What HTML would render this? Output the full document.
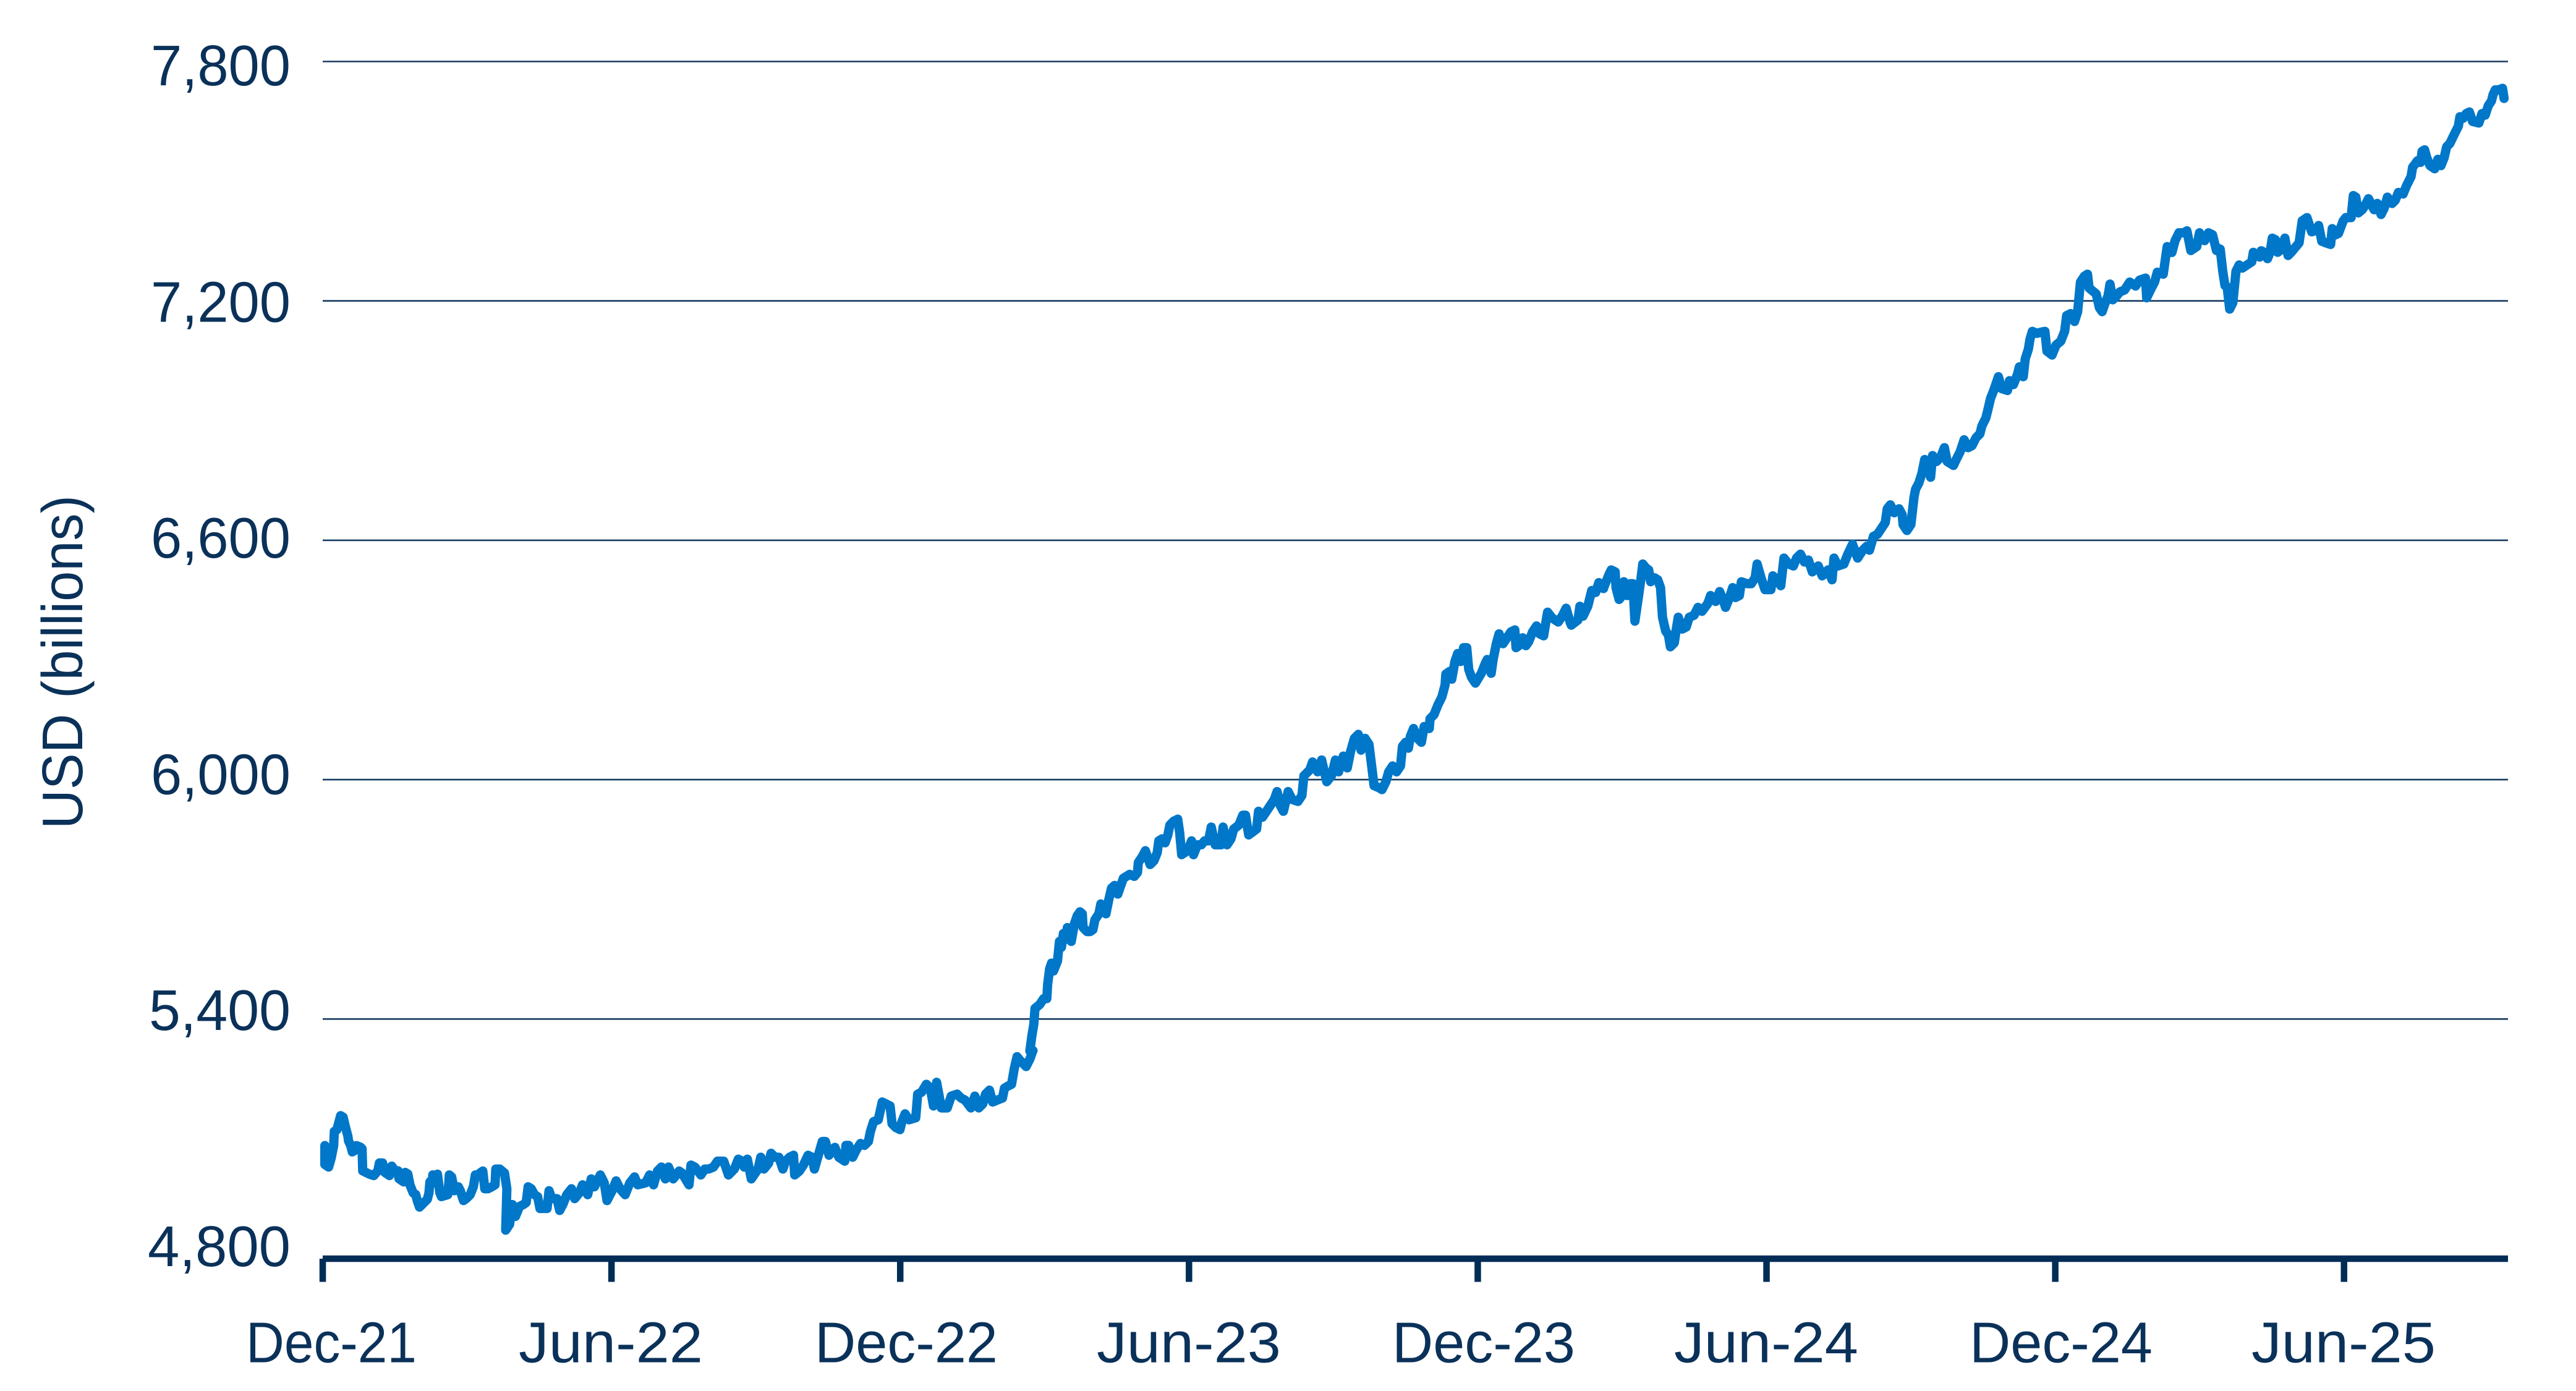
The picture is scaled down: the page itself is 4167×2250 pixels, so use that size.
<!DOCTYPE html>
<html>
<head>
<meta charset="utf-8">
<style>
html,body{margin:0;padding:0;background:#fff;}
svg{display:block;}
text{font-family:"Liberation Sans",Arial,sans-serif;fill:#0a3159;}
</style>
</head>
<body>
<svg width="4167" height="2250" viewBox="0 0 4167 2250" xmlns="http://www.w3.org/2000/svg">
<rect width="4167" height="2250" fill="#ffffff"/>

<!-- gridlines -->
<g stroke="#173b60" stroke-width="2.6">
<line x1="522" y1="99.5" x2="4057" y2="99.5"/>
<line x1="522" y1="486.7" x2="4057" y2="486.7"/>
<line x1="522" y1="873.9" x2="4057" y2="873.9"/>
<line x1="522" y1="1261.1" x2="4057" y2="1261.1"/>
<line x1="522" y1="1648.3" x2="4057" y2="1648.3"/>
</g>

<!-- x axis -->
<line x1="522" y1="2036" x2="4057" y2="2036" stroke="#002d56" stroke-width="10.5"/>
<g fill="#002d56">
<rect x="516.8" y="2036" width="10.5" height="37.5"/>
<rect x="983.9" y="2036" width="10.5" height="37.5"/>
<rect x="1451" y="2036" width="10.5" height="37.5"/>
<rect x="1918.1" y="2036" width="10.5" height="37.5"/>
<rect x="2385.2" y="2036" width="10.5" height="37.5"/>
<rect x="2852.3" y="2036" width="10.5" height="37.5"/>
<rect x="3319.4" y="2036" width="10.5" height="37.5"/>
<rect x="3786.5" y="2036" width="10.5" height="37.5"/>
</g>

<!-- y tick labels -->
<g font-size="93" text-anchor="end">
<text x="470" y="138" textLength="226" lengthAdjust="spacingAndGlyphs">7,800</text>
<text x="470" y="520.4" textLength="226" lengthAdjust="spacingAndGlyphs">7,200</text>
<text x="470" y="902" textLength="226" lengthAdjust="spacingAndGlyphs">6,600</text>
<text x="470" y="1284.7" textLength="226" lengthAdjust="spacingAndGlyphs">6,000</text>
<text x="470" y="1666" textLength="229" lengthAdjust="spacingAndGlyphs">5,400</text>
<text x="470" y="2048" textLength="231" lengthAdjust="spacingAndGlyphs">4,800</text>
</g>

<!-- x tick labels -->
<g font-size="93" text-anchor="middle">
<text x="536" y="2203.6" textLength="276" lengthAdjust="spacingAndGlyphs">Dec-21</text>
<text x="988" y="2203.6" textLength="298" lengthAdjust="spacingAndGlyphs">Jun-22</text>
<text x="1466" y="2203.6" textLength="296" lengthAdjust="spacingAndGlyphs">Dec-22</text>
<text x="1923" y="2203.6" textLength="298" lengthAdjust="spacingAndGlyphs">Jun-23</text>
<text x="2400" y="2203.6" textLength="296" lengthAdjust="spacingAndGlyphs">Dec-23</text>
<text x="2857" y="2203.6" textLength="298" lengthAdjust="spacingAndGlyphs">Jun-24</text>
<text x="3334" y="2203.6" textLength="296" lengthAdjust="spacingAndGlyphs">Dec-24</text>
<text x="3791" y="2203.6" textLength="298" lengthAdjust="spacingAndGlyphs">Jun-25</text>
</g>

<!-- y axis title -->
<text font-size="93" text-anchor="middle" transform="translate(133,1071) rotate(-90)" x="0" y="0" textLength="540" lengthAdjust="spacingAndGlyphs">USD (billions)</text>

<!-- series -->
<g fill="none" stroke="#0077c8" stroke-width="15" stroke-linejoin="round" stroke-linecap="round">
<polyline vector-effect="non-scaling-stroke" transform="translate(0,1450) scale(0.5102)" points="1030,790 1030,850 1042,858 1050,830 1058,790 1060,745 1068,740 1080,695 1088,700 1095,730 1103,760 1105,775 1112,790 1117,810 1125,805 1130,790 1143,795 1148,800 1150,870 1170,880 1185,885 1198,870 1203,845 1213,845 1220,875 1235,885 1242,855 1252,870 1262,870 1265,895 1280,905 1285,875 1293,880 1300,915 1310,940 1318,945 1323,965 1330,985 1345,970 1355,960 1360,940 1363,905 1372,895"/>

<polyline vector-effect="non-scaling-stroke" transform="translate(700,1250) scale(0.6378)" points="0,1030 0,1020 5,1040 12,1018 18,1065 22,1075 38,1070 40,1050 42,1020 48,1025 55,1060 65,1050 70,1060 78,1085 85,1080 95,1070 103,1050 108,1020 115,1020 120,1015 127,1010 132,1055 140,1055 150,1050 158,1045 160,1005 170,1005 182,1015 188,1055 185,1160 195,1145 202,1095 210,1125 220,1100 230,1095 237,1090 242,1050 250,1055 258,1070 266,1075 272,1105 290,1105 295,1060 302,1080 315,1080 322,1110 330,1095 340,1070 352,1055 360,1080 372,1065 380,1045 393,1070 402,1030 410,1050 425,1020 435,1040 442,1085 455,1060 465,1035 475,1055 488,1070 500,1040 512,1025 520,1045 540,1040 550,1020 560,1045 570,1010 580,1000 590,1030 598,1000 610,1030 625,1010 632,1015 650,1045 655,995 665,1000 680,1020 690,1005 700,1005 712,1000 722,985 738,985 750,1020 765,1005 775,980 785,985 790,1000 798,980 808,1030 825,1005 832,975 840,1005 852,990 858,965 868,975 878,975 888,1005 895,985 905,975 915,970 918,1020 930,1010 940,995 952,970 962,975 968,1005 978,970 988,935 996,935 1005,970 1020,950 1030,975 1045,985 1048,945 1055,945 1065,975 1075,955 1085,940 1095,945 1105,935 1110,910 1118,885 1130,880 1140,835 1150,840 1160,845 1165,890 1175,900 1185,905 1190,885 1198,865 1208,880 1225,875 1230,815 1240,810 1252,790 1262,800 1270,845 1278,785 1290,850 1305,850 1315,820 1330,815 1340,825 1350,830 1365,850 1375,820 1385,850 1395,840 1402,815 1412,805 1420,835 1432,830 1445,825 1450,800 1458,795 1468,790 1475,750 1482,720 1490,730 1505,745 1515,725 1522,705"/>

<polyline vector-effect="non-scaling-stroke" transform="translate(1650,700) scale(0.6378)" points="33,1567 25,1568 30,1530 35,1500 38,1460 50,1450 60,1435 68,1435 70,1400 75,1360 80,1345 85,1365 95,1340 100,1290 105,1305 110,1270 115,1285 120,1255 125,1280 130,1290 138,1245 145,1225 152,1215 158,1220 160,1255 170,1265 178,1265 185,1260 190,1235 200,1220 205,1195 210,1205 218,1220 225,1185 232,1155 240,1148 248,1170 255,1150 262,1130 270,1125 278,1120 290,1125 298,1115 300,1090 310,1075 318,1060 325,1080 330,1095 340,1085 348,1065 352,1035 360,1030 368,1040 375,1020 380,995 390,985 400,980 405,1015 410,1070 425,1060 435,1035 440,1070 450,1045 460,1045 468,1035 478,1035 485,1000 495,1045 510,1045 515,1000 525,1045 535,1030 542,1005 555,995 565,970 572,970 580,1020 600,1005 605,960 615,975 625,960 635,945 645,930 652,910 660,945 668,960 680,910 690,930 705,935 715,920 720,870 735,855 742,835 755,860 765,830 778,885 790,870 800,830 808,860 820,820 830,850 838,810 848,775 858,765 865,805 875,775 885,790 890,830 898,895 910,900 918,905 928,885 935,860 945,845 955,860 965,845 970,795 978,785 985,800 990,770 998,750 1008,775 1018,785 1025,745 1038,750 1040,725 1050,715 1060,690 1070,670 1078,640 1080,612 1090,605 1095,625 1103,580 1110,560 1118,580 1125,545 1133,545 1138,600 1145,620 1155,635 1170,610 1180,585 1185,575 1195,610 1200,575 1208,535 1215,510 1225,535 1235,520 1245,505 1255,500 1258,545 1265,540 1275,520 1283,540 1290,530 1300,505 1310,490 1318,510 1328,515 1338,455 1350,470 1365,480 1375,465 1385,445 1395,480 1398,488 1415,475 1420,440 1428,465 1440,440 1450,400 1460,405 1468,380 1480,395"/>

<polyline vector-effect="non-scaling-stroke" transform="translate(2600,300) scale(0.6378)" points="-10,1022 5,985 10,975 20,980 22,1020 30,1050 38,1040 42,1005 50,1040 58,1010 65,1010 70,1105 78,1050 85,1000 90,960 98,970 105,975 110,1005 120,995 128,1000 135,1020 140,1095 148,1130 155,1140 160,1170 170,1160 175,1125 180,1095 190,1125 200,1120 208,1095 220,1090 230,1070 240,1080 255,1060 262,1040 275,1055 285,1030 295,1055 300,1070 310,1045 318,1020 325,1045 335,1040 340,1005 355,1010 365,1010 375,995 380,960 390,995 400,1025 415,1025 420,990 430,1000 440,1015 448,945 460,960 472,965 480,945 490,935 500,955 510,950 520,980 535,965 545,990 560,975 570,1000 575,945 585,965 600,960 610,935 622,910 635,945 648,925 658,915 665,925 675,890 685,885 695,870 705,855 710,820 718,810 728,830 740,820 748,835 750,860 760,875 770,860 778,790 782,770 790,755 798,730 805,695 815,720 820,740 825,685 835,700 845,690 855,665 862,700 870,705 878,710 885,695 895,675 905,645 915,665 925,660 935,640 945,630 950,610 960,590 965,570 972,540 980,520 992,485 1000,515 1015,520 1020,495 1030,505 1040,480 1045,460 1055,485 1060,440 1068,415 1072,390 1078,370 1090,375 1100,372 1110,370 1115,420 1128,430 1138,405 1150,395 1160,370 1165,330 1175,325 1185,345 1193,320 1200,245 1210,230 1218,225 1222,260 1240,275 1248,310 1255,320 1262,300 1270,280 1275,250 1282,290 1292,280 1300,270 1312,265 1325,245 1340,255 1350,240 1365,235 1368,285 1380,260 1388,245 1395,220 1410,225 1420,155 1432,170 1440,140 1450,120 1462,120 1470,115 1480,165 1495,155 1502,120 1515,140 1525,120 1535,125 1545,165"/>

<polyline vector-effect="non-scaling-stroke" transform="translate(3367,0) scale(0.5102)" points="428,785 440,790 448,860 455,905 462,910 470,980 480,960 490,860 500,840 510,850 525,840 540,830 545,800 555,808 565,815 570,795 580,800 590,820 598,800 605,755 615,760 622,800 635,790 645,755 655,810 665,800 690,770 700,700 715,690 730,735 745,730 752,715 762,765 775,770 790,775 795,725 805,745 815,740 830,700 838,690 855,690 862,620 870,625 878,675 890,665 900,650 910,630 918,645 928,665 938,645 950,680 960,660 970,625 985,645 995,635 1005,610 1020,615 1030,590 1045,560 1050,530 1058,520 1065,510 1075,515 1080,480 1088,475 1095,500 1105,525 1120,535 1130,505 1140,525 1150,500 1158,465 1168,455 1180,430 1195,400 1200,370 1210,375 1220,360 1230,355 1240,385 1260,390 1270,360 1280,365 1290,335 1300,320 1305,300 1312,285 1322,285 1335,280 1340,312"/>
</g>
</svg>
</body>
</html>
